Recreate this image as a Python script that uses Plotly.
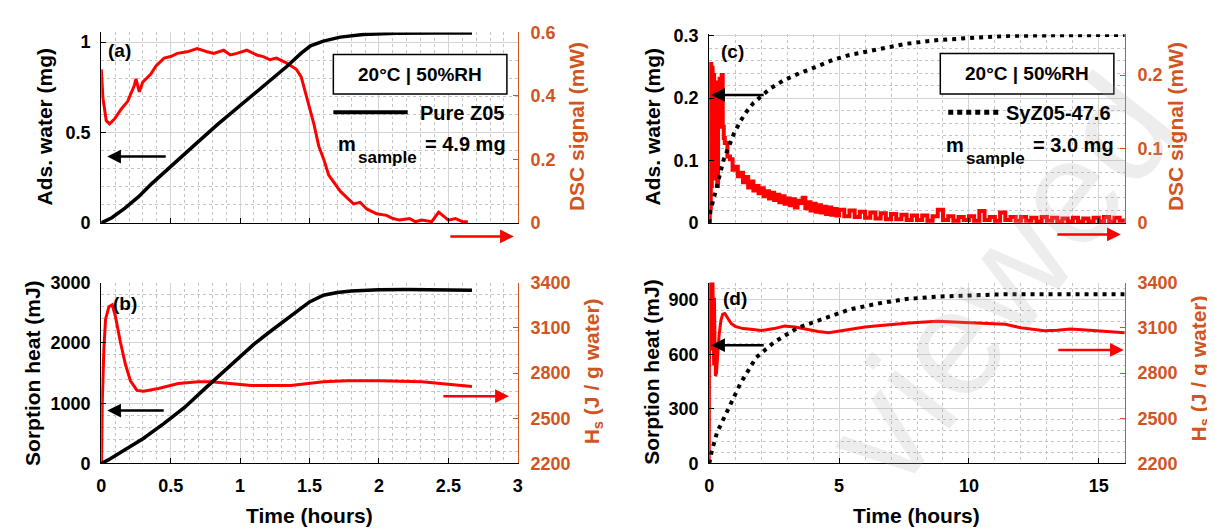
import plotly.graph_objects as go

W, H = 1215, 529

# ---------------- data ----------------
# (a) Pure Z05: adsorbed water (mg) and DSC signal (mW) vs time (h)
t_a_water = [0.0, 0.076, 0.171, 0.267, 0.362, 0.5, 0.671, 0.838, 1.005, 1.171, 1.338, 1.436, 1.507,
             1.6, 1.721, 1.886, 2.124, 2.4, 2.67]
a_water = [0.0, 0.029, 0.082, 0.144, 0.216, 0.314, 0.43, 0.545, 0.652, 0.759, 0.866, 0.936, 0.979,
           1.005, 1.027, 1.041, 1.048, 1.05, 1.05]

t_a_dsc = [0.0, 0.012, 0.036, 0.06, 0.095, 0.143, 0.19, 0.238, 0.25, 0.274, 0.298, 0.357, 0.393,
           0.452, 0.5, 0.548, 0.619, 0.69, 0.762, 0.81, 0.881, 0.929, 0.976, 1.048, 1.119, 1.167,
           1.214, 1.262, 1.333, 1.405, 1.44, 1.476, 1.5, 1.531, 1.567, 1.602, 1.638, 1.674, 1.721,
           1.769, 1.817, 1.864, 1.912, 1.983, 2.055, 2.1, 2.15, 2.22, 2.26, 2.31, 2.38, 2.43, 2.46,
           2.5, 2.55, 2.6, 2.64]
a_dsc = [0.484, 0.393, 0.322, 0.312, 0.327, 0.358, 0.383, 0.433, 0.454, 0.413, 0.443, 0.469, 0.494,
         0.519, 0.524, 0.534, 0.539, 0.549, 0.539, 0.534, 0.544, 0.529, 0.534, 0.544, 0.529, 0.524,
         0.514, 0.519, 0.504, 0.484, 0.46, 0.40, 0.36, 0.312, 0.241, 0.201, 0.151, 0.130, 0.10,
         0.08, 0.06, 0.065, 0.044, 0.029, 0.024, 0.014, 0.009, 0.014, 0.004, 0.009, 0.004, 0.034,
         0.024, 0.009, 0.014, 0.004, 0.004]

# (b) Pure Z05: sorption heat (mJ) and Hs (J/g water)
t_b_heat = [0.0, 0.05, 0.15, 0.3, 0.45, 0.6, 0.75, 0.9, 1.0, 1.1, 1.2, 1.3, 1.4, 1.5, 1.6, 1.7,
            1.8, 2.0, 2.2, 2.4, 2.67]
b_heat = [0, 60, 200, 410, 660, 930, 1250, 1560, 1780, 1980, 2160, 2330, 2500, 2680, 2790, 2835,
          2862, 2882, 2886, 2884, 2875]

t_b_hs = [0.0, 0.002, 0.007, 0.019, 0.031, 0.055, 0.079, 0.102, 0.138, 0.174, 0.21, 0.257, 0.305,
          0.412, 0.555, 0.698, 0.793, 0.936, 1.079, 1.221, 1.364, 1.6, 1.77, 2.0, 2.31, 2.67]
b_hs = [2200, 2219, 2602, 2966, 3157, 3240, 3253, 3176, 3004, 2857, 2749, 2685, 2679, 2698, 2730,
        2742, 2742, 2730, 2717, 2717, 2717, 2742, 2749, 2749, 2742, 2711]

# (c) SyZ05-47.6: adsorbed water (mg) and DSC signal (mW)
t_c_water = [0.0, 0.05, 0.18, 0.305, 0.56, 0.81, 0.95, 1.2, 1.45, 1.7, 1.96, 2.34, 2.85, 3.49, 4.12,
             4.76, 5.4, 6.67, 7.6, 8.83, 10.1, 11.4, 13.3, 16.0]
c_water = [0.0, 0.02, 0.04, 0.0615, 0.102, 0.128, 0.143, 0.163, 0.179, 0.192, 0.202, 0.215, 0.228,
           0.24, 0.25, 0.261, 0.269, 0.279, 0.287, 0.293, 0.297, 0.2995, 0.3005, 0.301]

t_c_dsc = [0.0, 0.02, 0.04, 0.06, 0.08, 0.1, 0.13, 0.16, 0.19, 0.22, 0.25, 0.28, 0.31, 0.34, 0.37,
           0.4, 0.44, 0.48, 0.52, 0.56,
           0.6, 0.7, 0.8, 0.9, 1.0, 1.1, 1.2, 1.3, 1.4, 1.5, 1.6, 1.7, 1.8, 1.9, 2.0, 2.1, 2.2, 2.3,
           2.4, 2.5, 2.6, 2.7, 2.8, 2.9, 3.0, 3.1, 3.2, 3.3, 3.4, 3.5, 3.6, 3.7, 3.8, 3.9, 4.0, 4.1,
           4.2, 4.3, 4.4, 4.5, 4.6, 4.7, 4.8, 4.9, 5.0,
           5.2, 5.4, 5.6, 5.8, 6.0, 6.2, 6.4, 6.6, 6.8, 7.0, 7.2, 7.4, 7.6, 7.8, 8.0, 8.2, 8.4, 8.6,
           8.8, 9.0, 9.2, 9.4, 9.6, 9.8, 10.0, 10.2, 10.4, 10.6, 10.8, 11.0, 11.2, 11.4, 11.6, 11.8,
           12.0, 12.2, 12.4, 12.6, 12.8, 13.0, 13.2, 13.4, 13.6, 13.8, 14.0, 14.2, 14.4, 14.6, 14.8,
           15.0, 15.2, 15.4, 15.6, 15.8, 16.0]
c_dsc = [0.0, 0.21, 0.02, 0.215, 0.05, 0.21, 0.08, 0.2, 0.12, 0.19, 0.06, 0.12, 0.05, 0.19, 0.13,
         0.195, 0.15, 0.2, 0.13, 0.115,
         0.108, 0.090, 0.086, 0.072, 0.076, 0.063, 0.068, 0.055, 0.062, 0.048, 0.056, 0.044, 0.050,
         0.040, 0.047, 0.036, 0.043, 0.033, 0.041, 0.031, 0.038, 0.028, 0.036, 0.026, 0.033, 0.024,
         0.032, 0.021, 0.030, 0.027, 0.034, 0.020, 0.028, 0.017, 0.026, 0.015, 0.024, 0.014, 0.022,
         0.012, 0.021, 0.011, 0.019, 0.010, 0.018,
         0.009, 0.017, 0.008, 0.015, 0.007, 0.014, 0.006, 0.013, 0.005, 0.012, 0.005, 0.011, 0.004,
         0.010, 0.004, 0.010, 0.003, 0.009, 0.018, 0.004, 0.009, 0.003, 0.008, 0.004, 0.009, 0.003,
         0.016, 0.004, 0.008, 0.003, 0.014, 0.004, 0.008, 0.003, 0.008, 0.003, 0.007, 0.002, 0.008,
         0.003, 0.007, 0.002, 0.006, 0.002, 0.007, 0.002, 0.006, 0.002, 0.007, 0.002, 0.008, 0.002,
         0.007, 0.003, 0.006]

# (d) SyZ05-47.6: sorption heat (mJ) and Hs (J/g water)
t_d_heat = [0.0, 0.1, 0.3, 0.7, 1.2, 1.8, 2.5, 3.4, 4.4, 5.4, 6.5, 7.6, 8.8, 10.1, 11.4, 13.0,
            14.5, 16.0]
d_heat = [0, 69, 170, 295, 440, 582, 667, 746, 799, 847, 880, 905, 918, 926, 931, 931, 931, 931]

t_d_hs = [0.0, 0.02, 0.05, 0.08, 0.11, 0.14, 0.17, 0.2, 0.24, 0.28, 0.32, 0.38, 0.45, 0.52, 0.6,
          0.7, 0.85, 1.0, 1.3, 1.6, 2.0, 2.5, 2.9, 3.3, 3.7, 4.2, 4.6, 5.0, 5.5, 6.0, 6.6, 7.2, 7.7,
          8.3, 8.8, 9.4, 10.1, 10.8, 11.4, 12.0, 12.5, 12.9, 13.4, 13.9, 14.5, 15.0, 15.5, 16.0]
d_hs = [2200, 3600, 3050, 3600, 2950, 3500, 2850, 3300, 2780, 2800, 2900, 3050, 3150, 3190, 3195,
        3170, 3128, 3110, 3095, 3090, 3082, 3095, 3112, 3105, 3090, 3075, 3068, 3080, 3095, 3105,
        3115, 3125, 3132, 3138, 3144, 3138, 3132, 3128, 3124, 3100, 3088, 3081, 3084, 3092, 3086,
        3080, 3074, 3068]

# tick values
a_left_ticks = [0, 0.5, 1]
a_right_ticks = [0, 0.2, 0.4, 0.6]
b_left_ticks = [0, 1000, 2000, 3000]
hs_ticks = [2200, 2500, 2800, 3100, 3400]
c_left_ticks = [0, 0.1, 0.2, 0.3]
c_right_ticks = [0, 0.1, 0.2]
d_left_ticks = [0, 300, 600, 900]
x_left_ticks = [0, 0.5, 1, 1.5, 2, 2.5, 3]
x_right_ticks = [0, 5, 10, 15]

# ---------------- styling ----------------
ORANGE = "#D2541E"
RED = "#FF0000"
FONT = "Liberation Sans, Arial, sans-serif"
TICKF = dict(family=FONT, size=18, color="black", weight="bold")
TICKF_O = dict(family=FONT, size=18, color=ORANGE, weight="bold")
GRID = "#d4d4d4"
MINOR = "#c4c4c4"


def px(x):
    return x / W


def py(y):
    return 1 - y / H


XL = [px(89), px(509)]
XR = [px(702), px(1121)]
YT = [py(213), py(15)]
YTc = [py(213), py(17)]
YB = [py(463), py(275)]


def xaxis(domain, anchor, rng, ticks, labels, minor_dt):
    return dict(domain=domain, anchor=anchor, range=rng, tickvals=ticks,
                ticktext=[str(t) for t in ticks], showticklabels=labels,
                ticks="inside", ticklen=5, tickcolor="black", linecolor="black", linewidth=1.2,
                showline=True, zeroline=False, showgrid=True, gridcolor=GRID, gridwidth=1,
                tickfont=TICKF, ticklabelstandoff=6,
                minor=dict(dtick=minor_dt, tick0=0, showgrid=True, gridcolor=MINOR, griddash="dot",
                           gridwidth=1, ticks=""))


def right_axis(domain, anchor, rng, ticks):
    return dict(domain=domain, anchor=anchor, side="right", range=rng, tickvals=ticks,
                ticktext=[str(t) for t in ticks], ticks="inside", ticklen=5, tickcolor=ORANGE,
                linecolor=ORANGE, linewidth=1.2, showline=True, zeroline=False, showgrid=False,
                tickfont=TICKF_O, ticklabelstandoff=8)


def left_axis(overlay, anchor, rng, ticks, minor_dt):
    return dict(overlaying=overlay, anchor=anchor, side="left", range=rng, tickvals=ticks,
                ticktext=[str(t) for t in ticks], ticks="inside", ticklen=5, tickcolor="black",
                linecolor="black", linewidth=1.2, showline=True, zeroline=False, showgrid=True,
                gridcolor=GRID, gridwidth=1, tickfont=TICKF, ticklabelstandoff=6,
                minor=dict(dtick=minor_dt, tick0=0, showgrid=True, gridcolor=MINOR, griddash="dot",
                           gridwidth=1, ticks=""))


fig = go.Figure()

# right-axis (red) traces drawn on base axes, left-axis (black) on overlaying axes
fig.add_trace(go.Scatter(x=t_a_dsc, y=a_dsc, xaxis="x", yaxis="y", mode="lines",
                         line=dict(color=RED, width=3), name="DSC signal"))
fig.add_trace(go.Scatter(x=t_a_water, y=a_water, xaxis="x", yaxis="y2", mode="lines",
                         line=dict(color="black", width=3.5), name="Pure Z05"))

fig.add_trace(go.Scatter(x=t_b_hs, y=b_hs, xaxis="x2", yaxis="y3", mode="lines",
                         line=dict(color=RED, width=3), name="Hs"))
fig.add_trace(go.Scatter(x=t_b_heat, y=b_heat, xaxis="x2", yaxis="y4", mode="lines",
                         line=dict(color="black", width=3.5), name="Sorption heat"))

fig.add_trace(go.Scatter(x=t_c_dsc, y=c_dsc, xaxis="x3", yaxis="y5", mode="lines",
                         line=dict(color=RED, width=4, shape="hv"), name="DSC signal"))
fig.add_trace(go.Scatter(x=t_c_water, y=c_water, xaxis="x3", yaxis="y6", mode="lines",
                         line=dict(color="black", width=4, dash="4px,5px"), name="SyZ05-47.6"))

fig.add_trace(go.Scatter(x=t_d_hs, y=d_hs, xaxis="x4", yaxis="y7", mode="lines",
                         line=dict(color=RED, width=3), name="Hs"))
fig.add_trace(go.Scatter(x=t_d_heat, y=d_heat, xaxis="x4", yaxis="y8", mode="lines",
                         line=dict(color="black", width=4, dash="4px,5px"), name="Sorption heat"))

fig.update_layout(
    width=W, height=H, margin=dict(l=0, r=0, t=0, b=0),
    paper_bgcolor="white", plot_bgcolor="white", showlegend=False,
    font=dict(family=FONT, color="black"),
    xaxis=xaxis(XL, "y", [0, 3], x_left_ticks, False, 0.1),
    xaxis2=xaxis(XL, "y3", [0, 3], x_left_ticks, True, 0.1),
    xaxis3=xaxis(XR, "y5", [0, 16], x_right_ticks, False, 1),
    xaxis4=xaxis(XR, "y7", [0, 16], x_right_ticks, True, 1),
    yaxis=right_axis(YT, "x", [0, 0.6], a_right_ticks),
    yaxis2=left_axis("y", "x", [0, 1.053], a_left_ticks, 0.1),
    yaxis3=right_axis(YB, "x2", [2200, 3400], hs_ticks),
    yaxis4=left_axis("y3", "x2", [0, 3000], b_left_ticks, 200),
    yaxis5=right_axis(YTc, "x3", [0, 0.255], c_right_ticks),
    yaxis6=left_axis("y5", "x3", [0, 0.302], c_left_ticks, 0.02),
    yaxis7=right_axis(YB, "x4", [2200, 3400], hs_ticks),
    yaxis8=left_axis("y7", "x4", [0, 995], d_left_ticks, 60),
)

ann = []


def text(x, y, s, size=21, color="black", angle=0, xanchor="center", yanchor="middle"):
    ann.append(dict(x=px(x), y=py(y), xref="paper", yref="paper", text=s, showarrow=False,
                    textangle=angle, xanchor=xanchor, yanchor=yanchor,
                    font=dict(family=FONT, size=size, color=color, weight="bold")))


def arrow(hx, hy, tx, color):
    ann.append(dict(x=px(hx), y=py(hy), xref="paper", yref="paper", text="", showarrow=True,
                    ax=tx - hx, ay=0, arrowhead=2, arrowsize=1.1, arrowwidth=2.5,
                    arrowcolor=color))


# faint watermark of the source page (kept fully inside the picture)
ann.append(dict(x=px(995), y=py(272), xref="paper", yref="paper", text="viewed",
                showarrow=False, textangle=-52, xanchor="center", yanchor="middle",
                font=dict(family=FONT, size=150, color="rgba(175,175,175,0.22)")))

# axis titles
text(32, 113, "Ads. water (mg)", angle=-90)
text(568, 113, "DSC signal (mW)", color=ORANGE, angle=-90)
text(19, 369, "Sorption heat (mJ)", angle=-90)
text(585, 367, "H<sub>s</sub> (J / g water)", color=ORANGE, angle=-90)
text(645, 113, "Ads. water (mg)", angle=-90)
text(1172, 113, "DSC signal (mW)", color=ORANGE, angle=-90)
text(643, 368, "Sorption heat (mJ)", angle=-90)
text(1197, 364, "H<sub>s</sub> (J / g water)", color=ORANGE, angle=-90)
text(299, 517, "Time (hours)")
text(911, 517, "Time (hours)")

# panel labels
text(107, 34, "(a)", size=19)
text(113, 297, "(b)", size=19)
text(725, 35, "(c)", size=19)
text(728, 292, "(d)", size=19)

# condition boxes and legends
text(410, 59, "20°C | 50%RH", size=19)
text(497, 99, "Pure Z05", size=20, xanchor="right")
text(326, 131, "m", size=20, xanchor="left")
text(346, 145, "sample", size=17, xanchor="left")
text(499, 131, "= 4.9 mg", size=20, xanchor="right")
text(939, 132, "m", size=20, xanchor="left")
text(959, 146, "sample", size=17, xanchor="left")
text(1112, 132, "= 3.0 mg", size=20, xanchor="right")
text(1022, 58, "20°C | 50%RH", size=19)
text(1109, 99, "SyZ05-47.6", size=20, xanchor="right")

# arrows
arrow(95, 144, 155, "black")
arrow(505, 227, 440, RED)
arrow(95, 408, 153, "black")
arrow(500, 393, 433, RED)
arrow(704, 80, 758, "black")
arrow(1117, 225, 1052, RED)
arrow(704, 340, 758, "black")
arrow(1120, 345, 1053, RED)

fig.update_layout(annotations=ann)

shapes = [
    dict(type="rect", xref="paper", yref="paper", x0=px(323), x1=px(498), y0=py(79), y1=py(38),
         line=dict(color="black", width=1.5), fillcolor="white", layer="above"),
    dict(type="rect", xref="paper", yref="paper", x0=px(935), x1=px(1110), y0=py(79), y1=py(37),
         line=dict(color="black", width=1.5), fillcolor="white", layer="above"),
    dict(type="line", xref="paper", yref="paper", x0=px(323), x1=px(398), y0=py(98), y1=py(98),
         line=dict(color="black", width=4)),
    dict(type="line", xref="paper", yref="paper", x0=px(943), x1=px(995), y0=py(98), y1=py(98),
         line=dict(color="black", width=5, dash="5px,4px")),
]
fig.update_layout(shapes=shapes)

fig.write_html("out.html")
